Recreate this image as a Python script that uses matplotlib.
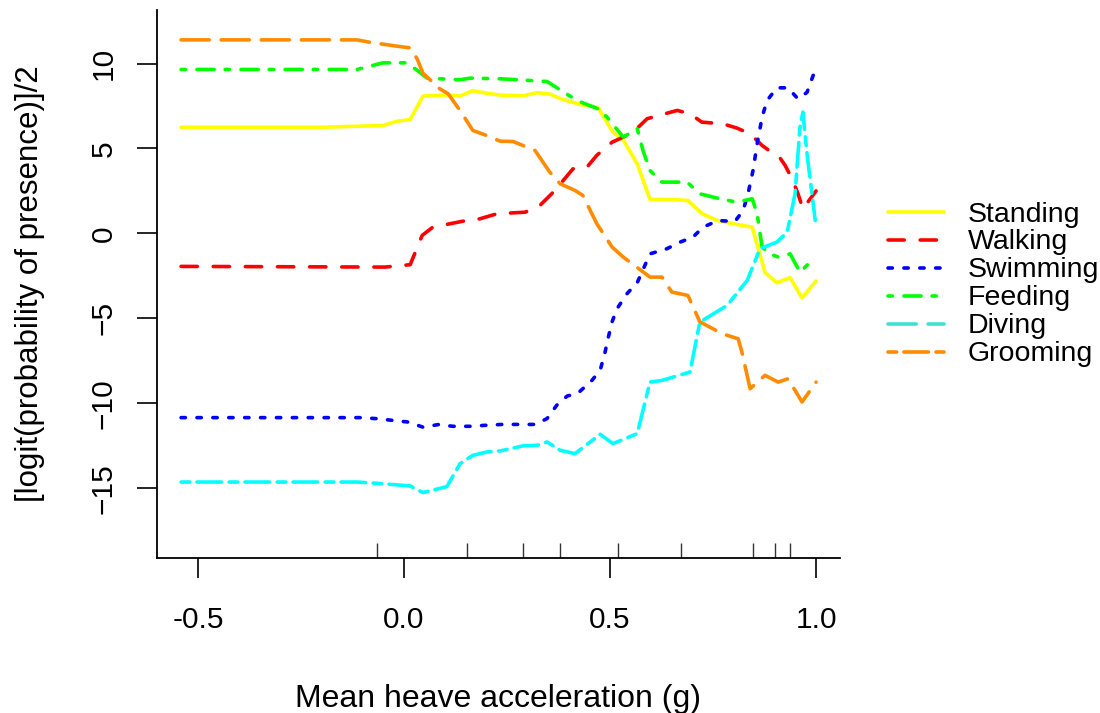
import matplotlib
matplotlib.use("Agg")
import matplotlib.pyplot as plt
from matplotlib.lines import Line2D

# partial dependence curves
standing_x = [-0.541, -0.197, -0.051, -0.017, 0.015, 0.046, 0.104, 0.136, 0.167, 0.201, 0.233, 0.289,
              0.323, 0.354, 0.383, 0.427, 0.471, 0.507, 0.532, 0.566, 0.597, 0.646, 0.689, 0.723,
              0.760, 0.808, 0.845, 0.876, 0.905, 0.937, 0.966, 1.0]
standing_y = [6.25, 6.25, 6.35, 6.6, 6.7, 8.08, 8.15, 8.08, 8.4, 8.25, 8.14, 8.1,
              8.28, 8.2, 7.9, 7.6, 7.4, 5.96, 5.5, 4.1, 2.0, 2.0, 1.94, 1.17,
              0.76, 0.53, 0.37, -2.3, -2.9, -2.6, -3.8, -2.8]

walking_x = [-0.541, -0.046, 0.015, 0.044, 0.070, 0.143, 0.184, 0.226, 0.294, 0.330, 0.359, 0.379,
             0.410, 0.444, 0.468, 0.505, 0.532, 0.556, 0.590, 0.663, 0.694, 0.723, 0.774, 0.808,
             0.840, 0.869, 0.896, 0.908, 0.925, 0.942, 0.956, 0.968, 1.0]
walking_y = [-1.94, -1.98, -1.84, -0.12, 0.37, 0.72, 0.86, 1.16, 1.25, 1.65, 2.35, 2.9,
             3.8, 3.9, 4.6, 5.37, 5.67, 5.96, 6.75, 7.24, 7.04, 6.55, 6.45, 6.2,
             5.86, 5.18, 4.7, 4.6, 4.0, 3.2, 2.35, 1.45, 2.5]

swimming_x = [-0.541, -0.107, -0.066, 0.010, 0.046, 0.083, 0.119, 0.160, 0.192, 0.238, 0.318, 0.347,
              0.371, 0.396, 0.422, 0.456, 0.476, 0.488, 0.495, 0.505, 0.517, 0.541, 0.566, 0.597,
              0.638, 0.670, 0.701, 0.726, 0.762, 0.803, 0.823, 0.835, 0.847, 0.857, 0.869, 0.881,
              0.905, 0.932, 0.956, 0.978, 0.993, 1.0]
swimming_y = [-10.84, -10.84, -10.9, -11.1, -11.4, -11.25, -11.35, -11.35, -11.3, -11.24, -11.24, -10.9,
              -10.1, -9.57, -9.4, -8.65, -8.06, -6.98, -6.2, -5.2, -4.43, -3.55, -2.9, -1.2,
              -0.9, -0.51, -0.22, 0.37, 0.76, 0.7, 1.35, 2.35, 3.7, 5.27, 6.84, 7.82,
              8.57, 8.57, 7.92, 8.3, 9.3, 9.5]

feeding_x = [-0.541, -0.114, -0.051, 0.007, 0.032, 0.056, 0.136, 0.160, 0.233, 0.265, 0.347, 0.371,
             0.420, 0.471, 0.493, 0.532, 0.566, 0.580, 0.597, 0.626, 0.687, 0.718, 0.767, 0.808,
             0.845, 0.857, 0.869, 0.888, 0.908, 0.937, 0.961, 0.998]
feeding_y = [9.65, 9.65, 10.04, 10.04, 9.6, 9.14, 9.04, 9.14, 9.1, 9.06, 8.94, 8.57,
             7.82, 7.33, 6.84, 5.67, 6.16, 4.88, 3.7, 3.02, 3.02, 2.33, 2.04, 1.84,
             2.04, 1.16, -0.8, -1.2, -1.39, -1.2, -2.28, -1.39]

diving_x = [-0.541, -0.114, -0.051, 0.015, 0.046, 0.104, 0.136, 0.167, 0.201, 0.233, 0.289, 0.323,
            0.347, 0.379, 0.415, 0.476, 0.507, 0.566, 0.597, 0.626, 0.694, 0.718, 0.784, 0.833,
            0.864, 0.905, 0.930, 0.949, 0.961, 0.968, 0.978, 0.998]
diving_y = [-14.63, -14.63, -14.73, -14.86, -15.25, -14.9, -13.55, -13.06, -12.86, -12.8, -12.5, -12.47,
            -12.27, -12.76, -12.96, -11.82, -12.37, -11.78, -8.75, -8.65, -8.16, -5.22, -4.24, -2.76,
            -0.9, -0.51, 0.08, 2.33, 6.25, 7.14, 4.7, 0.76]

grooming_x = [-0.541, -0.114, -0.083, -0.017, 0.015, 0.032, 0.046, 0.087, 0.107, 0.136, 0.167, 0.201,
              0.233, 0.265, 0.318, 0.354, 0.379, 0.415, 0.434, 0.468, 0.505, 0.532, 0.597, 0.626,
              0.650, 0.689, 0.718, 0.772, 0.811, 0.820, 0.840, 0.876, 0.908, 0.932, 0.966, 1.0]
grooming_y = [11.39, 11.39, 11.25, 11.02, 10.92, 10.27, 9.43, 8.51, 8.22, 7.24, 6.06, 5.76,
              5.43, 5.41, 4.88, 3.6, 2.92, 2.53, 2.24, 0.57, -0.8, -1.39, -2.57, -2.57,
              -3.45, -3.65, -5.2, -5.9, -6.2, -6.98, -9.14, -8.35, -8.75, -8.55, -9.92, -8.75]

# deciles of the predictor, drawn as a rug
rug_x = [-0.066, 0.153, 0.288, 0.378, 0.52, 0.673, 0.846, 0.9, 0.936]

x_ticks = [-0.5, 0.0, 0.5, 1.0]
x_tick_labels = ["-0.5", "0.0", "0.5", "1.0"]
y_ticks = [-15, -10, -5, 0, 5, 10]

# dash patterns like R's lty 2..6 (in linewidth units)
DASHED = (0, (4.5, 4.4))
DOTTED = (0, (1.2, 3.2))
DOTDASH = (0, (1.2, 3.2, 4.75, 3.05))
LONGDASH = (0, (7.8, 3.3))
TWODASH = (0, (2.4, 2.0, 6.8, 2.1))

plt.rcParams["font.family"] = ["Liberation Sans", "DejaVu Sans"]

fig = plt.figure(figsize=(11, 7.13), dpi=100)
ax = fig.add_axes([0.1427, 0.2174, 0.6209, 0.7686])

lw = 2.6
kw = dict(lw=lw, dash_capstyle="round", solid_capstyle="round", solid_joinstyle="round", dash_joinstyle="round")
ax.plot(standing_x, standing_y, color="#FFFF00", ls="-", **kw)
ax.plot(walking_x, walking_y, color="#FF0000", ls=DASHED, **kw)
ax.plot(swimming_x, swimming_y, color="#0000FF", ls=DOTTED, **kw)
ax.plot(feeding_x, feeding_y, color="#00FF00", ls=DOTDASH, **kw)
ax.plot(diving_x, diving_y, color="#00FFFF", ls=TWODASH, **kw)
ax.plot(grooming_x, grooming_y, color="#FF8C00", ls=LONGDASH, **kw)

ax.vlines(rug_x, 0, 0.028, transform=ax.get_xaxis_transform(), color="#333333", lw=1.0)

ax.set_xlim(-0.5995, 1.058)
ax.set_ylim(-19.1, 13.15)
ax.set_xticks(x_ticks)
ax.set_xticklabels(x_tick_labels)
ax.set_yticks(y_ticks)
for side in ["top", "right"]:
    ax.spines[side].set_visible(False)
for side in ["left", "bottom"]:
    ax.spines[side].set_linewidth(1.3)
ax.tick_params(direction="out", length=14.4, width=1.2, labelsize=21.5)
ax.tick_params(axis="x", pad=20)
ax.tick_params(axis="y", pad=14, labelrotation=90)
for t in ax.get_yticklabels():
    t.set_va("center")

ax.set_xlabel("Mean heave acceleration (g)", fontsize=23, labelpad=36)
ax.set_ylabel("[logit(probability of presence)]/2", fontsize=22.5, labelpad=32)

# legend styles differ slightly from the plotted lines (as in the original)
handles = [
    Line2D([], [], color="#FFFF00", ls="-", **kw),
    Line2D([], [], color="#FF0000", ls=DASHED, **kw),
    Line2D([], [], color="#0000FF", ls=DOTTED, **kw),
    Line2D([], [], color="#00FF00", ls=DOTDASH, **kw),
    Line2D([], [], color="#40E0D0", ls=LONGDASH, **kw),
    Line2D([], [], color="#FF8C00", ls=TWODASH, **kw),
]
labels = ["Standing", "Walking", "Swimming", "Feeding", "Diving", "Grooming"]
fig.legend(handles, labels, loc="center left", bbox_to_anchor=(888 / 1100, 0.601),
           frameon=False, fontsize=20.5, handlelength=1.96, handletextpad=0.84,
           labelspacing=0.07, borderpad=0, borderaxespad=0)

fig.savefig("out.png", dpi=100)
